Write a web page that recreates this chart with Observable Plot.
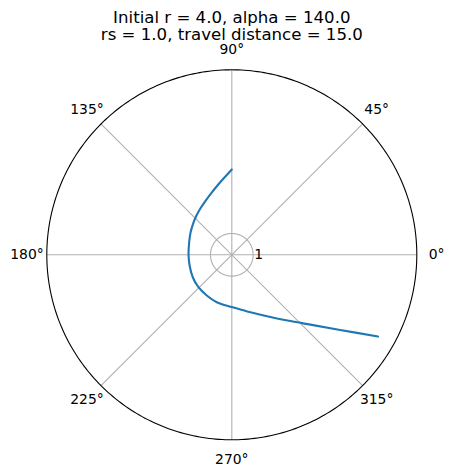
<!DOCTYPE html>
<html><head><meta charset="utf-8">
<script src="https://cdn.jsdelivr.net/npm/d3@7"></script>
<script src="https://cdn.jsdelivr.net/npm/@observablehq/plot@0.6"></script>
<style>body{margin:0;background:#fff}</style>
</head><body><div id="chart"></div>
<script>
const titleLines = ["Initial r = 4.0, alpha = 140.0", "rs = 1.0, travel distance = 15.0"];
const pathTheta = [90, 96.2, 101.7, 107.9, 115.7, 124.2, 133.1, 142.2, 151.6, 163.9, 180, 194.2, 209.9, 224.2, 238.4, 252.4, 270, 281.9, 288.0, 301.85, 311.5, 318.4, 325.0, 330.8];
const pathR = [4.0, 3.595, 3.315, 3.066, 2.822, 2.623, 2.456, 2.313, 2.198, 2.081, 2.028, 2.04, 2.11, 2.18, 2.24, 2.33, 2.45, 2.661, 2.832, 3.435, 4.148, 4.93, 6.117, 7.85];
const thetaTicks = [0, 45, 90, 135, 180, 225, 270, 315];
const thetaLabels = ["0°", "45°", "90°", "135°", "180°", "225°", "270°", "315°"];
const rTicks = [1];
const rTickLabels = ["1"];
const rMax = 8.67;
const thetaLabelR = 9.6;

const rad = d => d * Math.PI / 180;
const path = pathTheta.map((t, i) => ({t, r: pathR[i]}));
const ringAngles = d3.range(0, 361, 1);
const ring = r => ringAngles.map(a => ({a, r}));
const ticks = thetaTicks.map((t, i) => ({t, label: thetaLabels[i]}));
const rt = rTicks.map((r, i) => ({r, label: rTickLabels[i]}));

const chart = Plot.plot({
  width: 453,
  height: 475,
  marginLeft: 46.3,
  marginRight: 36.7,
  marginTop: 69.3,
  marginBottom: 35.7,
  x: {domain: [-rMax, rMax], axis: null},
  y: {domain: [-rMax, rMax], axis: null},
  style: {fontFamily: "DejaVu Sans", background: "#fff", overflow: "visible"},
  marks: [
    ...rTicks.map(r => Plot.line(ring(r), {x: d => d.r * Math.cos(rad(d.a)), y: d => d.r * Math.sin(rad(d.a)), stroke: "#b0b0b0", strokeWidth: 1.1})),
    Plot.link(thetaTicks, {x1: d => 0, y1: d => 0, x2: d => rMax * Math.cos(rad(d)), y2: d => rMax * Math.sin(rad(d)), stroke: "#b0b0b0", strokeWidth: 1.1}),
    Plot.line(path, {x: d => d.r * Math.cos(rad(d.t)), y: d => d.r * Math.sin(rad(d.t)), stroke: "#1f77b4", strokeWidth: 2.1, curve: "catmull-rom"}),
    Plot.line(ring(rMax), {x: d => d.r * Math.cos(rad(d.a)), y: d => d.r * Math.sin(rad(d.a)), stroke: "#000", strokeWidth: 1.1}),
    Plot.text(ticks, {x: d => thetaLabelR * Math.cos(rad(d.t)), y: d => thetaLabelR * Math.sin(rad(d.t)), text: "label", fontSize: 13.9, fill: "#000", textAnchor: "middle", lineAnchor: "middle"}),
    Plot.text(rt, {x: d => d.r, y: d => 0, text: "label", fontSize: 13.9, fill: "#000", textAnchor: "start", lineAnchor: "middle", dx: 1}),
    Plot.text([titleLines.join("\n")], {frameAnchor: "top", text: d => d, fontSize: 16.6, lineHeight: 1.02, fill: "#000", lineAnchor: "middle", dy: -43.8})
  ]
});
document.getElementById("chart").appendChild(chart);
</script>
</body></html>
